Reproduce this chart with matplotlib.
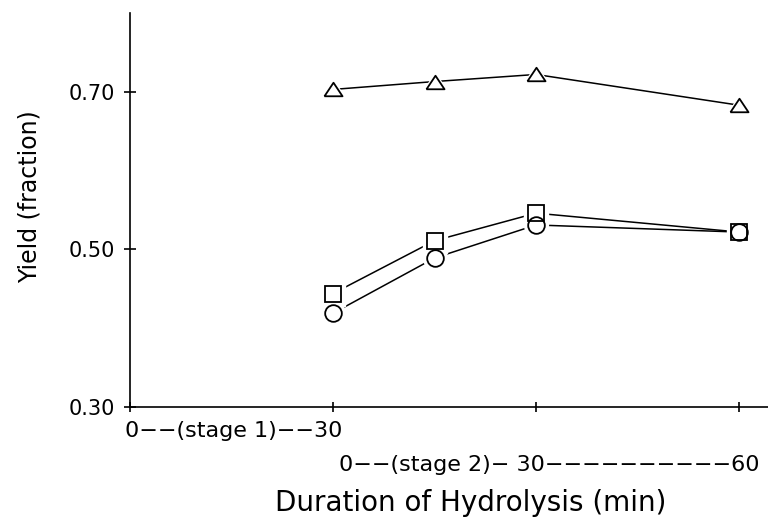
import matplotlib
matplotlib.use('Agg')
import matplotlib.pyplot as plt

# total hydrolysis time (min): stage 1 is 0-30, stage 2 runs 30-90
time_min = [30, 45, 60, 90]
yield_triangle = [0.703, 0.713, 0.722, 0.683]
yield_square = [0.444, 0.511, 0.546, 0.522]
yield_circle = [0.419, 0.489, 0.531, 0.522]

x_ticks = [0, 30, 60, 90]
y_ticks = [0.30, 0.50, 0.70]
y_ticklabels = ['0.30', '0.50', '0.70']

stage1_label = '0\u2212\u2212(stage 1)\u2212\u221230'
stage2_label = '0\u2212\u2212(stage 2)\u2212 30' + '\u2212' * 10 + '60'

plt.rcParams['font.family'] = ['DejaVu Sans']

fig = plt.figure(figsize=(7.68, 5.17), dpi=100)
ax = fig.add_axes([130 / 768, 110 / 517, 638 / 768, 394 / 517])

# flat open triangle like the original plot symbol
tri = [(-1, -0.75), (1, -0.75), (0, 0.75), (-1, -0.75)]

series = [(yield_triangle, tri, 13), (yield_square, 's', 12), (yield_circle, 'o', 12)]
for ys, mk, ms in series:
    ax.plot(time_min, ys, color='black', lw=1.1, zorder=1)
    # white halo so the joining lines stop short of the symbols
    ax.plot(time_min, ys, ls='none', marker=mk, ms=ms + 5, mfc='white', mec='white',
            zorder=2, clip_on=False)
for ys, mk, ms in series:
    ax.plot(time_min, ys, ls='none', marker=mk, ms=ms, mfc='none', mec='black',
            mew=1.3, zorder=3, clip_on=False)

ax.set_xlim(0, 90 + 29 / 6.767)
ax.set_ylim(0.30, 0.80)
ax.set_xticks(x_ticks)
ax.set_xticklabels([])
ax.set_yticks(y_ticks)
ax.set_yticklabels(y_ticklabels, fontsize=15)
ax.tick_params(axis='y', direction='inout', length=9, width=1.2, pad=6)
ax.tick_params(axis='x', direction='inout', length=7.5, width=1.2)

for s in ['top', 'right']:
    ax.spines[s].set_visible(False)
for s in ['left', 'bottom']:
    ax.spines[s].set_linewidth(1.2)

ax.text(-0.8, -0.061, stage1_label, transform=ax.get_xaxis_transform(),
        ha='left', va='center', fontsize=16)
ax.text(30.9, -0.147, stage2_label, transform=ax.get_xaxis_transform(),
        ha='left', va='center', fontsize=16)

fig.text(471 / 768, 1 - 503 / 517, 'Duration of Hydrolysis (min)',
         ha='center', va='center', fontsize=20)
fig.text(30 / 768, 1 - 197 / 517, 'Yield (fraction)', rotation=90,
         ha='center', va='center', fontsize=17)

fig.savefig('out.png', dpi=100)
